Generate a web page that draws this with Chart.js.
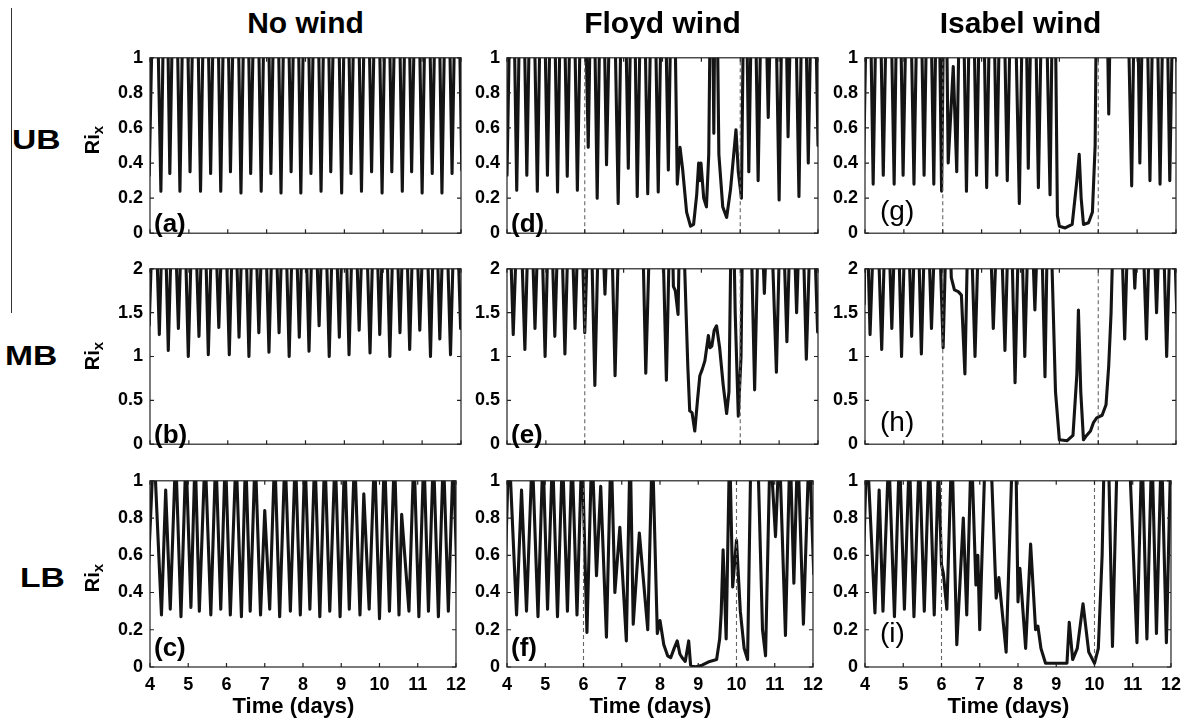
<!DOCTYPE html>
<html><head><meta charset="utf-8">
<script src="https://cdn.jsdelivr.net/npm/chart.js@4.4.1/dist/chart.umd.min.js"></script>
<style>
body{margin:0;background:#fff;width:1194px;height:722px;position:relative;overflow:hidden;font-family:"Liberation Sans",Arial,sans-serif;}
.cv{position:absolute;}
.t{position:absolute;font-weight:bold;color:#000;white-space:nowrap;line-height:1;}
</style></head><body>
<script>
// ---------- data (time in days, Ri_x) ----------
const xTicks = [4,5,6,7,8,9,10,11,12];
const windMarks = [6,10];
const ubNo = [[3.98,0.33],[4.13,2.0],[4.28,0.24],[4.40,2.0],[4.51,0.34],[4.64,2.0],[4.77,0.24],[4.90,2.0],[5.03,0.35],[5.17,2.0],[5.30,0.24],[5.43,2.0],[5.56,0.34],[5.69,2.0],[5.82,0.24],[5.95,2.0],[6.07,0.35],[6.21,2.0],[6.34,0.23],[6.47,2.0],[6.59,0.34],[6.73,2.0],[6.86,0.24],[6.99,2.0],[7.11,0.34],[7.24,2.0],[7.37,0.23],[7.50,2.0],[7.63,0.35],[7.76,2.0],[7.88,0.23],[8.01,2.0],[8.14,0.34],[8.27,2.0],[8.40,0.24],[8.53,2.0],[8.65,0.35],[8.79,2.0],[8.93,0.23],[9.05,2.0],[9.17,0.34],[9.31,2.0],[9.44,0.24],[9.57,2.0],[9.70,0.35],[9.84,2.0],[9.97,0.23],[10.10,2.0],[10.22,0.35],[10.36,2.0],[10.49,0.24],[10.61,2.0],[10.73,0.35],[10.87,2.0],[11.00,0.23],[11.13,2.0],[11.26,0.34],[11.39,2.0],[11.51,0.23],[11.64,2.0],[11.77,0.34],[11.90,2.0],[12.02,0.36]];
const mbNo = [[3.98,1.36],[4.11,3.2],[4.24,1.25],[4.355,3.2],[4.47,1.07],[4.60,3.2],[4.73,1.32],[4.86,3.2],[4.985,1.0],[5.12,3.2],[5.26,1.23],[5.38,3.2],[5.50,1.02],[5.635,3.2],[5.77,1.33],[5.905,3.2],[6.04,1.02],[6.165,3.2],[6.29,1.22],[6.42,3.2],[6.545,1.0],[6.67,3.2],[6.80,1.27],[6.93,3.2],[7.06,1.05],[7.19,3.2],[7.32,1.27],[7.45,3.2],[7.58,1.0],[7.71,3.2],[7.84,1.22],[7.965,3.2],[8.09,1.06],[8.22,3.2],[8.35,1.35],[8.48,3.2],[8.61,1.0],[8.74,3.2],[8.87,1.22],[8.995,3.2],[9.12,1.02],[9.25,3.2],[9.38,1.3],[9.52,3.2],[9.66,1.04],[9.785,3.2],[9.91,1.25],[10.04,3.2],[10.17,1.0],[10.30,3.2],[10.43,1.27],[10.555,3.2],[10.68,1.08],[10.81,3.2],[10.94,1.3],[11.08,3.2],[11.215,1.0],[11.335,3.2],[11.455,1.2],[11.59,3.2],[11.73,1.02],[11.86,3.2],[11.99,1.32]];
const lbNo = [[3.95,0.5],[4.1,1.2],[4.30,0.28],[4.41,0.95],[4.53,0.31],[4.67,1.15],[4.81,0.27],[4.94,1.15],[5.07,0.32],[5.18,1.15],[5.29,0.30],[5.44,1.15],[5.59,0.28],[5.72,1.15],[5.85,0.31],[5.97,1.15],[6.10,0.28],[6.25,1.15],[6.39,0.27],[6.50,1.15],[6.62,0.30],[6.75,1.15],[6.89,0.28],[7.0,0.84],[7.13,0.31],[7.26,1.15],[7.39,0.27],[7.53,1.15],[7.67,0.30],[7.80,1.15],[7.93,0.28],[8.05,1.15],[8.18,0.31],[8.31,1.15],[8.44,0.27],[8.57,1.15],[8.70,0.30],[8.84,1.15],[8.97,0.27],[9.09,1.15],[9.21,0.31],[9.35,1.15],[9.49,0.28],[9.59,0.93],[9.73,0.31],[9.87,1.15],[10.0,0.26],[10.13,1.15],[10.26,0.30],[10.39,1.15],[10.51,0.28],[10.58,0.82],[10.77,0.30],[10.90,1.15],[11.03,0.27],[11.16,1.15],[11.28,0.30],[11.41,1.15],[11.54,0.27],[11.67,1.15],[11.80,0.30],[11.93,1.15],[12.05,0.3]];
const ubFloyd = [[4.0,0.33],[4.13,2.0],[4.25,0.245],[4.38,2.0],[4.51,0.33],[4.64,2.0],[4.78,0.24],[4.91,2.0],[5.04,0.33],[5.17,2.0],[5.30,0.235],[5.42,2.0],[5.55,0.325],[5.68,2.0],[5.81,0.245],[5.95,2.0],[6.09,0.49],[6.2,2.0],[6.32,0.20],[6.44,2.0],[6.56,0.39],[6.71,2.0],[6.86,0.17],[6.99,2.0],[7.12,0.37],[7.24,2.0],[7.35,0.21],[7.49,2.0],[7.62,0.225],[7.76,2.0],[7.89,0.235],[8.02,2.0],[8.15,0.36],[8.27,2.0],[8.38,0.28],[8.45,0.49],[8.52,0.36],[8.62,0.12],[8.72,0.04],[8.8,0.05],[8.88,0.22],[8.93,0.40],[8.96,0.3],[8.99,0.4],[9.06,0.2],[9.13,0.15],[9.19,0.45],[9.26,2.0],[9.32,0.57],[9.37,2.0],[9.45,0.45],[9.55,0.15],[9.65,0.09],[9.75,0.25],[9.89,0.59],[9.95,0.35],[10.03,0.2],[10.12,2.0],[10.22,0.35],[10.34,2.0],[10.46,0.30],[10.59,2.0],[10.72,0.66],[10.86,2.0],[11.0,0.19],[11.12,2.0],[11.23,0.55],[11.37,2.0],[11.51,0.21],[11.63,2.0],[11.75,0.40],[11.88,2.0],[12.0,0.5]];
const mbFloyd = [[3.98,2.3],[4.03,3.2],[4.16,1.25],[4.31,3.2],[4.46,1.08],[4.59,3.2],[4.72,1.32],[4.85,3.2],[4.98,1.0],[5.1,3.2],[5.23,1.23],[5.36,3.2],[5.49,1.03],[5.62,3.2],[5.75,1.32],[5.88,3.2],[6.0,1.27],[6.13,3.2],[6.26,0.67],[6.39,3.2],[6.52,1.71],[6.65,3.2],[6.78,0.78],[6.92,3.2],[7.45,3.2],[7.57,0.81],[7.72,3.2],[7.96,3.2],[8.1,0.73],[8.22,3.2],[8.28,1.8],[8.33,1.75],[8.4,1.48],[8.47,3.2],[8.55,2.3],[8.65,0.9],[8.7,0.38],[8.76,0.36],[8.83,0.15],[8.9,0.5],[8.96,0.78],[9.02,0.85],[9.09,0.95],[9.18,1.24],[9.22,1.1],[9.27,1.12],[9.33,1.3],[9.39,1.35],[9.47,1.1],[9.56,0.68],[9.65,0.35],[9.71,0.6],[9.76,2.3],[9.8,3.2],[9.87,1.5],[9.95,0.32],[10.02,1.0],[10.08,3.2],[10.24,3.2],[10.37,0.62],[10.5,3.2],[10.62,1.72],[10.75,3.2],[10.93,0.82],[11.06,3.2],[11.2,1.17],[11.33,3.2],[11.45,1.5],[11.57,3.2],[11.7,0.97],[11.85,3.2],[11.99,1.28]];
const lbFloyd = [[3.95,0.5],[4.05,1.2],[4.25,0.28],[4.38,0.95],[4.51,0.30],[4.66,1.15],[4.81,0.27],[4.94,1.15],[5.06,0.31],[5.19,1.15],[5.32,0.27],[5.45,1.15],[5.58,0.30],[5.7,1.15],[5.83,0.28],[5.96,1.2],[6.09,0.185],[6.22,1.2],[6.34,0.49],[6.45,0.97],[6.6,0.16],[6.72,1.2],[6.82,0.4],[6.95,0.75],[7.12,0.14],[7.22,1.2],[7.3,0.23],[7.46,0.72],[7.68,0.2],[7.8,1.2],[7.93,0.18],[8.0,0.25],[8.1,0.12],[8.2,0.06],[8.28,0.05],[8.37,0.1],[8.45,0.14],[8.52,0.07],[8.58,0.05],[8.66,0.03],[8.75,0.14],[8.8,0.01],[8.92,0.0],[9.1,0.01],[9.3,0.03],[9.48,0.04],[9.56,0.15],[9.6,0.29],[9.65,0.63],[9.73,0.15],[9.82,1.2],[9.9,0.43],[10.0,0.68],[10.1,0.3],[10.2,0.1],[10.29,0.04],[10.38,1.2],[10.55,1.2],[10.68,0.2],[10.76,0.06],[10.88,1.2],[11.02,0.7],[11.12,1.2],[11.28,0.17],[11.4,1.2],[11.5,0.45],[11.6,1.2],[11.75,0.23],[11.9,1.2],[12.02,0.5]];
const ubIsabel = [[3.96,0.33],[4.09,2.0],[4.21,0.28],[4.34,2.0],[4.47,0.33],[4.61,2.0],[4.75,0.28],[4.86,2.0],[4.98,0.33],[5.12,2.0],[5.26,0.28],[5.39,2.0],[5.52,0.33],[5.64,2.0],[5.77,0.28],[5.87,2.0],[5.97,0.24],[6.06,2.0],[6.14,0.40],[6.27,0.95],[6.36,0.35],[6.48,2.0],[6.61,0.24],[6.74,2.0],[6.87,0.33],[7.0,2.0],[7.13,0.26],[7.26,2.0],[7.39,0.33],[7.52,2.0],[7.66,0.30],[7.8,2.0],[7.97,0.17],[8.1,2.0],[8.2,0.37],[8.33,2.0],[8.46,0.26],[8.6,2.0],[8.76,0.22],[8.86,2.0],[8.95,0.1],[9.0,0.04],[9.15,0.03],[9.33,0.05],[9.45,0.3],[9.51,0.45],[9.56,0.2],[9.62,0.05],[9.75,0.06],[9.85,0.12],[9.92,0.5],[9.98,2.0],[10.22,1.4],[10.27,0.68],[10.32,1.4],[10.7,2.0],[10.86,0.27],[10.97,2.0],[11.07,0.40],[11.2,2.0],[11.33,0.30],[11.46,2.0],[11.59,0.28],[11.72,2.0],[11.84,0.30],[11.97,2.0],[12.05,0.5]];
const mbIsabel = [[3.98,1.6],[4.02,3.2],[4.13,1.25],[4.28,3.2],[4.43,1.08],[4.56,3.2],[4.69,1.32],[4.82,3.2],[4.94,1.0],[5.07,3.2],[5.2,1.23],[5.33,3.2],[5.45,1.03],[5.58,3.2],[5.71,1.32],[5.86,3.2],[6.01,1.1],[6.13,3.2],[6.22,1.9],[6.3,1.76],[6.4,1.74],[6.48,1.7],[6.57,0.8],[6.68,3.2],[6.83,1.0],[6.97,3.2],[7.17,3.2],[7.3,1.32],[7.45,3.2],[7.6,1.07],[7.73,3.2],[7.86,0.7],[7.99,3.2],[8.11,1.0],[8.24,3.2],[8.37,1.53],[8.5,3.2],[8.63,0.77],[8.72,3.2],[8.8,2.2],[8.9,0.6],[9.0,0.05],[9.2,0.04],[9.35,0.1],[9.45,0.8],[9.49,1.53],[9.55,0.6],[9.62,0.05],[9.7,0.1],[9.8,0.15],[9.88,0.25],[9.96,0.3],[10.1,0.33],[10.2,0.45],[10.27,0.9],[10.33,1.5],[10.37,2.2],[10.45,3.2],[10.55,3.2],[10.68,1.2],[10.81,3.2],[10.94,1.78],[11.09,3.2],[11.24,1.2],[11.37,3.2],[11.5,1.5],[11.63,3.2],[11.76,1.0],[11.9,3.2],[12.02,1.5]];
const lbIsabel = [[3.95,0.5],[4.05,1.2],[4.26,0.29],[4.37,0.95],[4.47,0.30],[4.62,1.15],[4.77,0.27],[4.9,1.15],[5.03,0.31],[5.16,1.15],[5.28,0.27],[5.42,1.15],[5.55,0.30],[5.68,1.15],[5.81,0.28],[5.92,1.1],[6.0,0.55],[6.05,0.5],[6.14,0.31],[6.27,1.2],[6.4,0.12],[6.57,0.8],[6.66,0.28],[6.78,1.2],[6.9,0.44],[6.95,0.6],[7.0,0.2],[7.15,1.2],[7.28,1.2],[7.43,0.37],[7.5,0.48],[7.69,0.08],[7.86,1.2],[7.94,1.2],[8.0,0.35],[8.05,0.53],[8.2,0.1],[8.33,0.66],[8.46,0.2],[8.52,0.22],[8.6,0.1],[8.72,0.02],[9.0,0.02],[9.28,0.02],[9.34,0.24],[9.43,0.04],[9.55,0.1],[9.7,0.34],[9.85,0.08],[10.0,0.02],[10.1,0.1],[10.2,0.6],[10.26,1.2],[10.36,1.2],[10.47,0.11],[10.6,1.2],[10.9,1.2],[11.11,0.13],[11.24,1.2],[11.37,0.15],[11.5,1.2],[11.62,0.18],[11.75,1.2],[11.88,0.13],[12.0,1.2]];
const colTitles = ['No wind','Floyd wind','Isabel wind'];
const rowTitles = ['UB','MB','LB'];
const panelLetters = ['(a)','(b)','(c)','(d)','(e)','(f)','(g)','(h)','(i)'];
const yMax = [1,2,1];
const yStep = [0.2,0.5,0.2];

// ---------- layout ----------
const colLeft=[150,507,865], rowTop=[54,265,477], rowH=[189,189,190], plotW=311;
const PADL=60, PADT=14, PADR=12;

const boxPlugin = {
  id:'box',
  afterDraw(chart){
    const {ctx, chartArea:a, scales:{x,y}} = chart;
    ctx.save();
    ctx.strokeStyle='#222'; ctx.lineWidth=1.2;
    ctx.strokeRect(a.left, a.top, a.right-a.left, a.bottom-a.top);
    ctx.beginPath();
    x.ticks.forEach(t=>{const p=x.getPixelForValue(t.value); ctx.moveTo(p,a.bottom); ctx.lineTo(p,a.bottom-4); ctx.moveTo(p,a.top); ctx.lineTo(p,a.top+4);});
    y.ticks.forEach(t=>{const p=y.getPixelForValue(t.value); ctx.moveTo(a.left,p); ctx.lineTo(a.left+4,p); ctx.moveTo(a.right,p); ctx.lineTo(a.right-4,p);});
    ctx.stroke(); ctx.restore();
  }
};

const series = [[ubNo,mbNo,lbNo],[ubFloyd,mbFloyd,lbFloyd],[ubIsabel,mbIsabel,lbIsabel]];
const tickFont = {family:'"Liberation Sans", Arial, sans-serif', size:18, weight:'bold'};

function addText(txt, x, y, css, html){
  const d=document.createElement('div'); d.className='t';
  if(html) d.innerHTML=txt; else d.textContent=txt;
  d.style.left=x+'px'; d.style.top=y+'px';
  Object.assign(d.style, css||{});
  document.body.appendChild(d); return d;
}

for(let c=0;c<3;c++){
  for(let r=0;r<3;r++){
    const bottomH = r===2 ? 52 : 8;
    const W = PADL+plotW+PADR, H = PADT+rowH[r]+bottomH;
    const cv=document.createElement('canvas'); cv.className='cv';
    cv.width=W; cv.height=H;
    cv.style.left=(colLeft[c]-PADL)+'px'; cv.style.top=(rowTop[r]-PADT)+'px';
    document.body.appendChild(cv);
    const datasets=[];
    if(c>0){
      windMarks.forEach(m=>datasets.push({data:[{x:m,y:0},{x:m,y:yMax[r]}],borderColor:'#666',borderWidth:1.1,borderDash:[4,3],pointRadius:0,clip:0}));
    }
    datasets.push({data:series[c][r].map(p=>({x:p[0],y:p[1]})),borderColor:'#141414',borderWidth:3.1,pointRadius:0,tension:0,clip:0,borderJoinStyle:'round',borderCapStyle:'round'});
    new Chart(cv,{type:'line',data:{datasets},
      options:{responsive:false,animation:false,devicePixelRatio:1,events:[],
        plugins:{legend:{display:false},tooltip:{enabled:false}},
        layout:{autoPadding:false,padding:{left:0,top:PADT,right:PADR,bottom:0}},
        scales:{
          x:{type:'linear',min:4,max:12,border:{display:false},grid:{display:false,drawTicks:false},
             afterBuildTicks(s){s.ticks=xTicks.map(v=>({value:v}));},
             ticks:{display:r===2,font:tickFont,color:'#000',padding:7,maxRotation:0},
             afterFit(s){s.height=bottomH;}},
          y:{type:'linear',min:0,max:yMax[r],border:{display:false},grid:{display:false,drawTicks:false},
             ticks:{stepSize:yStep[r],font:tickFont,color:'#000',padding:7,callback:v=>String(+(+v).toFixed(2))},
             afterFit(s){s.width=PADL;}}
        }},
      plugins:[boxPlugin]});
    const lt = panelLetters[c*3+r];
    const base = rowTop[r]+rowH[r];
    if(c<2) addText(lt, colLeft[c]+4, base-33, {fontSize:'26px'});
    else addText(lt, colLeft[c]+15, base-(r===2?48:46), {fontSize:'28px',fontWeight:'normal'});
  }
  addText(colTitles[c], colLeft[c]+plotW/2, 8, {fontSize:'30px',transform:'translateX(-50%)'});
  addText('Time (days)', colLeft[c]+plotW/2-12, 695, {fontSize:'22px',transform:'translateX(-50%)'});
}
const rowMid=[140,356,578];
const rowLeft=[12,5,20];
for(let r=0;r<3;r++){
  addText(rowTitles[r], rowLeft[r], rowMid[r]-14, {fontSize:'28px',transform:'scaleX(1.2)',transformOrigin:'left center'});
  addText('Ri<sub style="font-size:15px;vertical-align:-4px">x</sub>', 93, rowMid[r], {fontSize:'20px',transform:'translate(-50%,-50%) rotate(-90deg)'}, true);
}
const ln=document.createElement('div');
Object.assign(ln.style,{position:'absolute',left:'11px',top:'8px',width:'1.3px',height:'305px',background:'#333'});
document.body.appendChild(ln);
</script>
</body></html>
